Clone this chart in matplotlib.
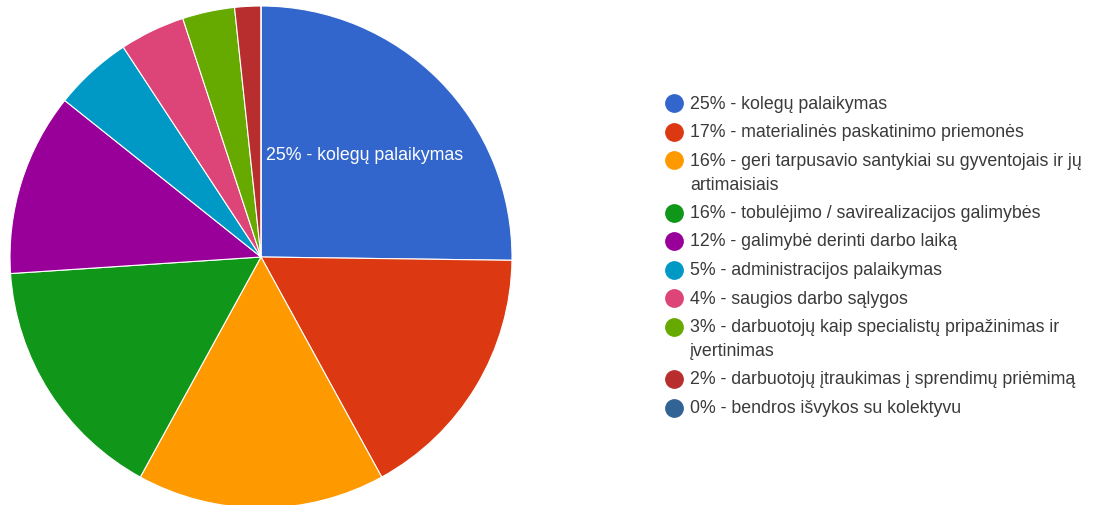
import matplotlib
matplotlib.use('Agg')
import matplotlib.pyplot as plt

# survey answers (counts), Google Forms style pie
labels = ['kolegų palaikymas',
          'materialinės paskatinimo priemonės',
          'geri tarpusavio santykiai su gyventojais ir jų\nartimaisiais',
          'tobulėjimo / savirealizacijos galimybės',
          'galimybė derinti darbo laiką',
          'administracijos palaikymas',
          'saugios darbo sąlygos',
          'darbuotojų kaip specialistų pripažinimas ir\nįvertinimas',
          'darbuotojų įtraukimas į sprendimų priėmimą',
          'bendros išvykos su kolektyvu']
counts = [30, 20, 19, 19, 14, 6, 5, 4, 2, 0]
colors = ['#3366cc', '#dc3912', '#ff9900', '#109618', '#990099',
          '#0099c6', '#dd4477', '#66aa00', '#b82e2e', '#316395']

total = sum(counts)
pcts = [round(100 * c / total) for c in counts]

plt.rcParams['font.family'] = ['Liberation Sans', 'DejaVu Sans']

W, H = 1097, 506
fig = plt.figure(figsize=(W / 100, H / 100), dpi=100)

# pie axes (center ~ (261, 258) px, radius ~ 251 px)
ax = fig.add_axes([10 / W, (H - 509) / H, 502 / W, 502 / H])
ax.pie(counts, colors=colors, startangle=90, counterclock=False,
       wedgeprops=dict(edgecolor='white', linewidth=0.8))
ax.set_xlim(-1, 1)
ax.set_ylim(-1, 1)
ax.set_aspect('equal')

# overlay in pixel coords for slice label and legend
ov = fig.add_axes([0, 0, 1, 1])
ov.set_xlim(0, W)
ov.set_ylim(H, 0)
ov.axis('off')

fs = 12.8
ov.text(266, 155, f'{pcts[0]}% - {labels[0]}', color='white', fontsize=fs,
        ha='left', va='center')

y = 104
for lab, p, c in zip(labels, pcts, colors):
    ov.plot(674, y, 'o', ms=12.5, color=c)
    lines = lab.split('\n')
    ov.text(690, y, f'{p}% - {lines[0]}', fontsize=fs, color='#3a3a3a',
            ha='left', va='center')
    for extra in lines[1:]:
        y += 24
        ov.text(690, y, extra, fontsize=fs, color='#3a3a3a',
                ha='left', va='center')
    y += 28.5

fig.savefig('out.png', dpi=100)
